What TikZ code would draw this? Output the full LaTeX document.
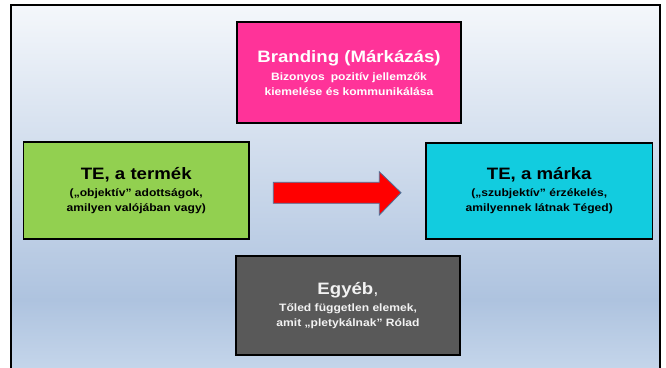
\documentclass[tikz,border=0pt]{standalone}
\usepackage{fontspec}
\newfontfamily\af{Liberation Sans}[FakeStretch=1.13]
\definecolor{pinkb}{HTML}{FF3399}
\definecolor{greenb}{HTML}{92D050}
\definecolor{cyanb}{HTML}{12CCDF}
\definecolor{grayb}{HTML}{595959}
\definecolor{bgA}{HTML}{F4F7FB}
\definecolor{bgB}{HTML}{AEC3DF}
\definecolor{bgC}{HTML}{C4D5EA}
\definecolor{arrowc}{HTML}{4F6E96}
\definecolor{lighttxt}{HTML}{F2F2F2}
\newcommand\bt[1]{{\fontsize{16.5}{20}\selectfont #1}}
\begin{document}
\begin{tikzpicture}[x=1pt,y=-1pt,
  box/.style={draw=black, line width=1.3pt, minimum width=224pt, minimum height=100pt,
    align=center, inner sep=0pt, font=\af\bfseries\fontsize{10.7}{15}\selectfont}]
\useasboundingbox (0,0) rectangle (666,367);
\clip (0,0) rectangle (666,367);
\fill[white] (0,0) rectangle (666,367);
\shade[top color=bgA, bottom color=bgB] (10.5,5.3) rectangle (659.5,300);
\shade[top color=bgB, bottom color=bgC] (10.5,299.5) rectangle (659.5,368);
\draw[line width=2pt] (10.5,372) -- (10.5,5.3) -- (659.5,5.3) -- (659.5,372);

\node[box, fill=pinkb, text=white, minimum width=224pt, minimum height=101pt] (brand) at (349,72.5)
  {\bt{Branding (Márkázás)}\\[3pt] Bizonyos\hspace{0.25em} pozitív jellemzők\\ kiemelése és kommunikálása};
\node[box, fill=greenb, text=black, minimum width=225.5pt, minimum height=97pt] (prod) at (136.25,190.5)
  {\bt{TE, a termék}\\[2pt] („objektív” adottságok,\\ amilyen valójában vagy)};
\node[box, fill=cyanb, text=black, minimum width=226.5pt, minimum height=96pt] (mark) at (539.25,191)
  {\bt{TE, a márka}\\[2pt] („szubjektív” érzékelés,\\ amilyennek látnak Téged)};
\node[box, fill=grayb, text=lighttxt, minimum width=224pt, minimum height=99pt] (other) at (348,305.5)
  {\bt{Egyéb}{\fontsize{16.5}{20}\selectfont\mdseries ,}\\[2pt] Tőled független elemek,\\ amit „pletykálnak” Rólad};

\draw[fill=red, draw=arrowc, line width=0.8pt]
  (273.3,182.3) -- (379.3,182.3) -- (379.3,171.7) -- (401,192.7) -- (379.3,215)
  -- (379.3,203.3) -- (273.3,203.3) -- cycle;
\end{tikzpicture}
\end{document}
